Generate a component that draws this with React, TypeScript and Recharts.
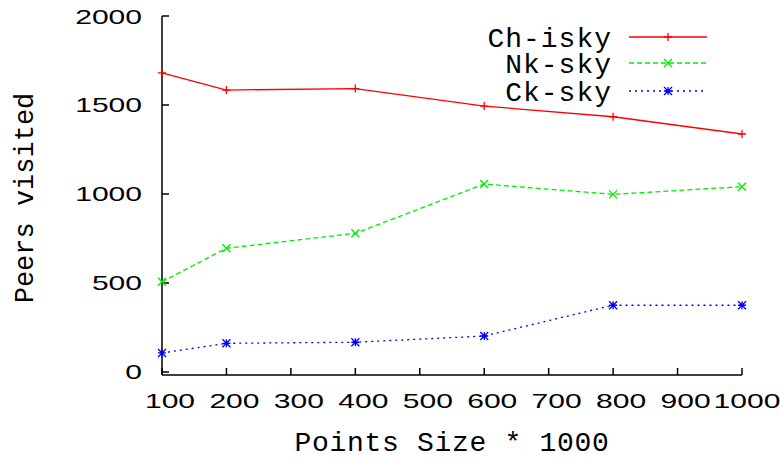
import React from 'react';
import { LineChart, Line, XAxis, YAxis, Legend } from 'recharts';

const pointSizes = [100, 200, 400, 600, 800, 1000];
const chIsky = [1680, 1584, 1592, 1494, 1434, 1337];
const nkSky = [507, 695, 779, 1056, 998, 1041];
const ckSky = [107, 161, 167, 202, 375, 375];

const xTicks = [100, 200, 300, 400, 500, 600, 700, 800, 900, 1000];
const yTicks = [0, 500, 1000, 1500, 2000];

const seriesNames = ['Ch-isky', 'Nk-sky', 'Ck-sky'];

const data = pointSizes.map((size, i) => ({
  size,
  ch: chIsky[i],
  nk: nkSky[i],
  ck: ckSky[i],
}));

const RED = '#ff0000';
const GREEN = '#00ee00';
const BLUE = '#0000ff';
const mono = '"Liberation Mono", "Courier New", monospace';
const sans = '"Liberation Sans", Arial, sans-serif';

// gnuplot style point markers
const marker = (kind: string, cx: number, cy: number, color: string, key?: any) => {
  const r = 4;
  let d = '';
  if (kind === 'plus' || kind === 'star') d += `M${cx - r},${cy}h${2 * r}M${cx},${cy - r}v${2 * r}`;
  if (kind === 'cross' || kind === 'star') d += `M${cx - r},${cy - r}l${2 * r},${2 * r}M${cx - r},${cy + r}l${2 * r},${-2 * r}`;
  return <path key={key} d={d} stroke={color} strokeWidth={1.3} fill="none" />;
};

const makeDot = (kind: string, color: string) => (props: any) =>
  marker(kind, props.cx, props.cy, color, props.key ?? `${kind}-${props.index}`);

const XTick = (props: any) => {
  const { x, y, payload } = props;
  // labels sit a little right of their tick, as in the gnuplot output
  const dx = String(payload.value).length > 3 ? 5 : 8;
  return (
    <text
      transform={`translate(${x + dx},${y + 33}) scale(1.43,1)`}
      textAnchor="middle"
      fontFamily={sans}
      fontSize={21}
      fill="#000"
    >
      {payload.value}
    </text>
  );
};

const YTick = (props: any) => {
  const { x, y, payload } = props;
  return (
    <text
      transform={`translate(${x - 20},${y + 7.5}) scale(1.43,1)`}
      textAnchor="end"
      fontFamily={sans}
      fontSize={21}
      fill="#000"
    >
      {payload.value}
    </text>
  );
};

const legendRows = [
  { name: seriesNames[0], color: RED, dash: undefined, kind: 'plus', y: 37 },
  { name: seriesNames[1], color: GREEN, dash: '5 3', kind: 'cross', y: 63 },
  { name: seriesNames[2], color: BLUE, dash: '2 4', kind: 'star', y: 91 },
];

const renderLegend = () => (
  <svg width={780} height={458} style={{ position: 'absolute', left: 0, top: 0 }}>
    {legendRows.map((row) => (
      <g key={row.name}>
        <text x={612} y={row.y + 10} textAnchor="end" fontFamily={mono} fontSize={28} letterSpacing={1}>
          {row.name}
        </text>
        <line x1={629} x2={707} y1={row.y} y2={row.y} stroke={row.color} strokeWidth={1.3} strokeDasharray={row.dash} />
        {marker(row.kind, 668, row.y, row.color)}
      </g>
    ))}
    <text x={452} y={451} textAnchor="middle" fontFamily={mono} fontSize={28} letterSpacing={0.7}>
      Points Size * 1000
    </text>
    <text
      x={33}
      y={198}
      transform="rotate(-90, 33, 198)"
      textAnchor="middle"
      fontFamily={mono}
      fontSize={27}
    >
      Peers visited
    </text>
  </svg>
);

export default function App() {
  return (
    <div style={{ position: 'absolute', left: 0, top: 0, width: 780, height: 458, background: '#fff' }}>
      <LineChart
        width={780}
        height={458}
        data={data}
        margin={{ top: 16, right: 38, bottom: 0, left: 0 }}
      >
        <XAxis
          dataKey="size"
          type="number"
          domain={[100, 1000]}
          ticks={xTicks}
          height={83}
          tick={<XTick />}
          tickSize={-7}
          tickMargin={7}
          stroke="#000"
          strokeWidth={1.5}
          interval={0}
        />
        <XAxis
          xAxisId="top"
          dataKey="size"
          type="number"
          orientation="top"
          domain={[100, 1000]}
          ticks={xTicks}
          height={0}
          tick={false}
          tickSize={-7}
          stroke="#000"
          strokeWidth={1.5}
          allowDataOverflow
        />
        <YAxis
          type="number"
          domain={[-17, 2000]}
          ticks={yTicks}
          width={162}
          tick={<YTick />}
          tickSize={-7}
          tickMargin={7}
          stroke="#000"
          strokeWidth={1.5}
          interval={0}
          allowDataOverflow
        />
        <YAxis
          yAxisId="right"
          type="number"
          orientation="right"
          domain={[-17, 2000]}
          ticks={yTicks}
          width={0}
          tick={false}
          tickSize={-7}
          stroke="#000"
          strokeWidth={1.5}
          allowDataOverflow
        />
        <Legend
          layout="horizontal"
          verticalAlign="middle"
          align="center"
          wrapperStyle={{ left: 0, top: 0, width: 780, height: 458, pointerEvents: 'none' }}
          content={renderLegend}
        />
        <Line
          dataKey="ch"
          name={seriesNames[0]}
          stroke={RED}
          strokeWidth={1.3}
          dot={makeDot('plus', RED)}
          activeDot={false}
          isAnimationActive={false}
        />
        <Line
          dataKey="nk"
          name={seriesNames[1]}
          stroke={GREEN}
          strokeWidth={1.3}
          strokeDasharray="5 3"
          dot={makeDot('cross', GREEN)}
          activeDot={false}
          isAnimationActive={false}
        />
        <Line
          dataKey="ck"
          name={seriesNames[2]}
          stroke={BLUE}
          strokeWidth={1.3}
          strokeDasharray="2 4"
          dot={makeDot('star', BLUE)}
          activeDot={false}
          isAnimationActive={false}
        />
      </LineChart>
    </div>
  );
}
